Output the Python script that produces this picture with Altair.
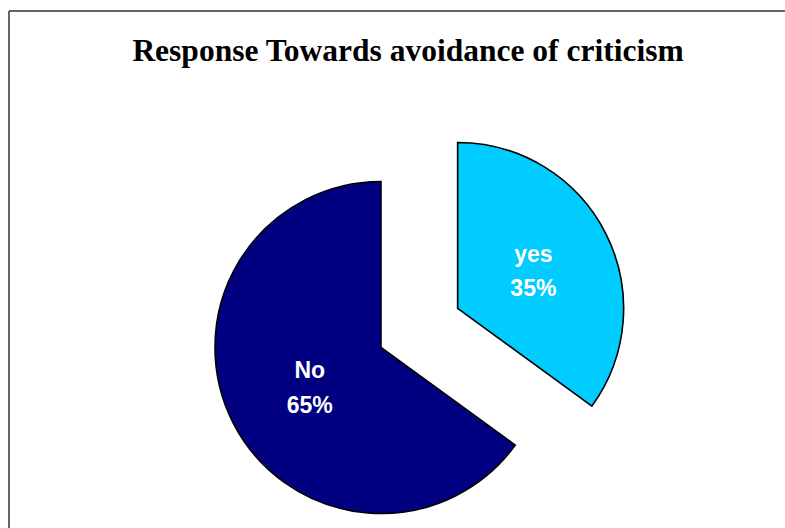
import math
import altair as alt
import pandas as pd

# ---- data ----
categories = ["yes", "No"]
values = [35, 65]
colors = ["#00CCFF", "#000080"]
title_text = "Response Towards avoidance of criticism"

df = pd.DataFrame({"category": categories, "value": values})
df["end"] = df["value"].cumsum()
df["start"] = df["end"] - df["value"]
df["mid"] = (df["start"] + df["end"]) / 2
df["pct"] = df["value"].astype(str) + "%"

# ---- layout ----
W, H = 785, 528
CX, CY = 381, 347.5
R = 166
EXPLODE = 86

theta_scale = alt.Scale(domain=[0, 100], range=[0, 2 * math.pi])
color_scale = alt.Scale(domain=categories, range=colors)


def centre(cat):
    if cat == "yes":
        mid = float(df.loc[df.category == cat, "mid"].iloc[0]) / 100 * 2 * math.pi
        return CX + EXPLODE * math.sin(mid), CY - EXPLODE * math.cos(mid)
    return CX, CY


label_style = {
    "yes": dict(r=85, dy_name=-8, dy_pct=26),
    "No": dict(r=80, dy_name=-6, dy_pct=29),
}

layers = []

# frame (top and left edges; right and bottom fall outside the window)
dummy = pd.DataFrame({"a": [0]})
top_edge = alt.Chart(dummy).mark_rule(color="#333333", strokeWidth=1.5).encode(
    x=alt.value(9), x2=alt.value(W), y=alt.value(11)
)
left_edge = alt.Chart(dummy).mark_rule(color="#333333", strokeWidth=1.5).encode(
    x=alt.value(9), y=alt.value(11), y2=alt.value(H)
)
layers += [top_edge, left_edge]

for cat in categories:
    x0, y0 = centre(cat)
    st = label_style[cat]
    base = alt.Chart(df).transform_filter(alt.datum.category == cat)
    arc = base.mark_arc(outerRadius=R, stroke="black", strokeWidth=1.6).encode(
        theta=alt.Theta("start:Q", scale=theta_scale, stack=False),
        theta2="end:Q",
        color=alt.Color("category:N", scale=color_scale, legend=None),
        x=alt.value(x0),
        y=alt.value(y0),
    )
    txt_kw = dict(
        radius=st["r"], font="Liberation Sans", fontSize=23, fontWeight="bold",
        color="white", align="center", baseline="alphabetic",
    )
    name = base.mark_text(dy=st["dy_name"], **txt_kw).encode(
        theta=alt.Theta("mid:Q", scale=theta_scale, stack=False),
        x=alt.value(x0), y=alt.value(y0),
        text="category:N",
    )
    pct = base.mark_text(dy=st["dy_pct"], **txt_kw).encode(
        theta=alt.Theta("mid:Q", scale=theta_scale, stack=False),
        x=alt.value(x0), y=alt.value(y0),
        text="pct:N",
    )
    layers += [arc, name, pct]

title = alt.Chart(pd.DataFrame({"t": [title_text]})).mark_text(
    font="Liberation Serif", fontSize=31.5, fontWeight="bold", color="black",
    align="center", baseline="alphabetic",
).encode(text="t:N", x=alt.value(408), y=alt.value(61))
layers.append(title)

chart = alt.layer(*layers).properties(
    width=W, height=H, padding=0, autosize=alt.AutoSizeParams(type="none"),
    background="white",
).configure_view(strokeWidth=0)

chart.save("out.html", embed_options={"renderer": "svg", "actions": False})
